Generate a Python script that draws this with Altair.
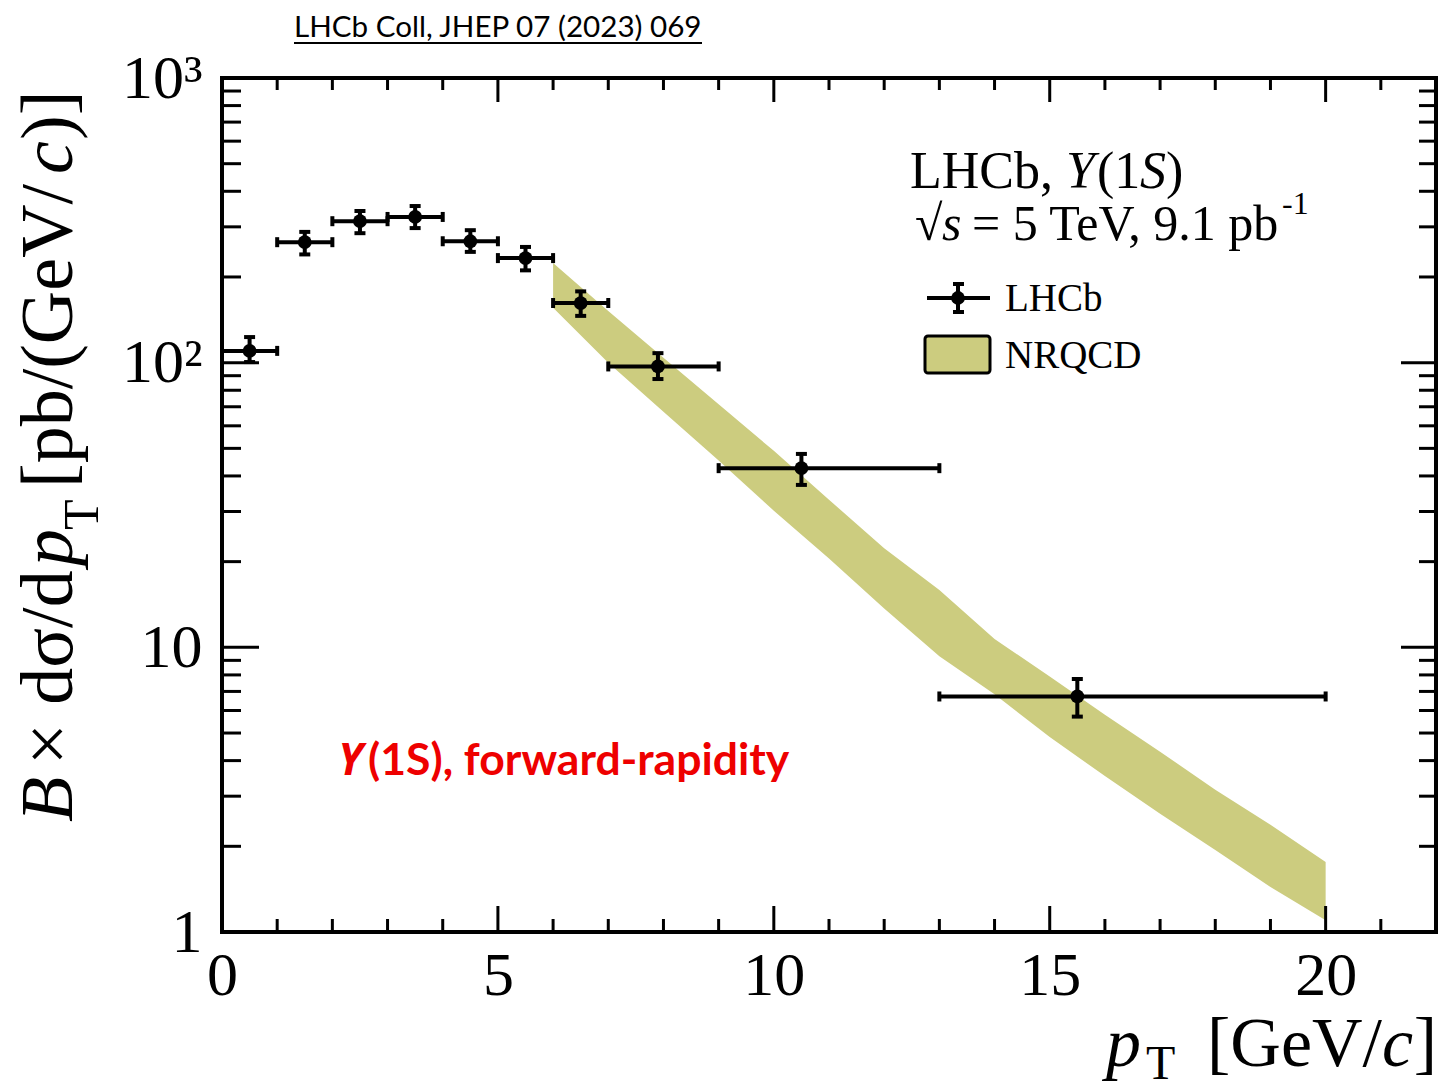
import altair as alt
import pandas as pd

# ---------------- data ----------------
bin_lo = [0, 1, 2, 3, 4, 5, 6, 7, 9, 13]
bin_hi = [1, 2, 3, 4, 5, 6, 7, 9, 13, 20]
pt_x = [0.5, 1.5, 2.5, 3.5, 4.5, 5.5, 6.5, 7.9, 10.5, 15.5]
pt_y = [110, 265, 314, 325, 267, 233, 162, 97, 42.6, 6.72]
err_lo = [100.5, 240, 285, 297, 245, 211, 146, 87.6, 37.2, 5.71]
err_hi = [123, 288, 341, 355, 292, 255, 178, 108, 47.8, 7.74]

band_x = [6, 7, 8, 9, 10, 11, 12, 13, 14, 15, 16, 17, 18, 19, 20]
band_up = [224, 152, 104, 71.4, 49.0, 33.0, 22.3, 15.9, 10.7, 7.9, 5.8, 4.3, 3.16, 2.38, 1.76]
band_lo = [156, 100, 67.3, 45.3, 30.2, 20.5, 13.7, 9.3, 6.84, 4.84, 3.53, 2.60, 1.94, 1.44, 1.10]

x_major = [0, 5, 10, 15, 20]
x_minor = [1, 2, 3, 4, 6, 7, 8, 9, 11, 12, 13, 14, 16, 17, 18, 19, 21]
y_major = [1, 10, 100, 1000]
y_minor = [2, 3, 4, 5, 6, 7, 8, 9, 20, 30, 40, 50, 60, 70, 80, 90,
           200, 300, 400, 500, 600, 700, 800, 900]

# ---------------- layout ----------------
W, H = 1214, 854
L, T = 222, 78
SERIF = "Liberation Serif"
SANS = "Lato"
OLIVE = "#cccc7f"

xs = alt.Scale(domain=[0, 22], nice=False, zero=False)
ys = alt.Scale(type="log", domain=[1, 1000], nice=False)

AX = alt.Axis(values=x_major, title=None, ticks=False, domain=False, grid=False,
              labelFont=SERIF, labelFontSize=62, labelPadding=13, labelFlush=False,
              labelOverlap=False, labelColor="black", format="d")
AY = alt.Axis(values=y_major, title=None, ticks=False, domain=False, grid=False,
              labelFont=SERIF, labelFontSize=62, labelPadding=20, labelFlush=False,
              labelOverlap=False, labelColor="black",
              labelExpr="datum.value >= 999 ? '10³' : datum.value >= 99 ? '10²' : datum.value >= 9 ? '10' : '1'")

def X(f):
    return alt.X(f, scale=xs, axis=AX)

def Y(f):
    return alt.Y(f, scale=ys, axis=AY)

df = pd.DataFrame({"x": pt_x, "y": pt_y, "lo": bin_lo, "hi": bin_hi,
                   "elo": err_lo, "ehi": err_hi})
band = pd.DataFrame({"x": band_x, "up": band_up, "lo": band_lo})

layers = []

# NRQCD band
layers.append(alt.Chart(band).mark_area(color=OLIVE, opacity=1).encode(
    x=X("x:Q"), y=Y("up:Q"), y2="lo:Q"))

# inward ticks (ROOT style)
def xticks(vals, y0, y1):
    return alt.Chart(pd.DataFrame({"t": vals})).mark_rule(color="black", strokeWidth=3).encode(
        x=X("t:Q"), y=alt.value(y0), y2=alt.value(y1))

def yticks(vals, x0, x1):
    return alt.Chart(pd.DataFrame({"t": vals})).mark_rule(color="black", strokeWidth=3).encode(
        y=Y("t:Q"), x=alt.value(x0), x2=alt.value(x1))

layers += [
    xticks(x_major, H, H - 26), xticks(x_minor, H, H - 13),
    xticks(x_major, 0, 24), xticks(x_minor, 0, 12),
    yticks(y_major, 0, 37), yticks(y_minor, 0, 19),
    yticks(y_major, W, W - 35), yticks(y_minor, W, W - 17),
]

# error bars
layers.append(alt.Chart(df).mark_rule(color="black", strokeWidth=4).encode(
    x=X("lo:Q"), x2="hi:Q", y=Y("y:Q")))
layers.append(alt.Chart(df).mark_rule(color="black", strokeWidth=4).encode(
    x=X("x:Q"), y=Y("elo:Q"), y2="ehi:Q"))
layers.append(alt.Chart(df).transform_fold(["lo", "hi"], as_=["k", "xe"]).mark_tick(
    orient="vertical", size=10, thickness=4, color="black", opacity=1).encode(
    x=X("xe:Q"), y=Y("y:Q")))
layers.append(alt.Chart(df).transform_fold(["elo", "ehi"], as_=["k", "ye"]).mark_tick(
    orient="horizontal", size=11, thickness=4, color="black", opacity=1).encode(
    x=X("x:Q"), y=Y("ye:Q")))

# points
layers.append(alt.Chart(df).mark_circle(size=190, color="black", opacity=1).encode(
    x=X("x:Q"), y=Y("y:Q")))

ONE = alt.Data(values=[{}])

def txt(s, px, py, size, font=SERIF, style="normal", weight="normal", angle=0,
        align="left", color="black"):
    return alt.Chart(ONE).mark_text(
        text=s, fontSize=size, font=font, fontStyle=style, fontWeight=weight,
        angle=angle, align=align, baseline="alphabetic", color=color).encode(
        x=alt.value(px - L), y=alt.value(py - T))

def prule(X0, Y0, X1, Y1, w=4):
    return alt.Chart(ONE).mark_rule(color="black", strokeWidth=w).encode(
        x=alt.value(X0 - L), x2=alt.value(X1 - L), y=alt.value(Y0 - T), y2=alt.value(Y1 - T))

# y-axis title (rotated pieces)
YB = 72
layers += [
    txt("B", YB, 822, 74, style="italic", angle=270),
    txt("× dσ/d", YB, 765, 74, angle=270),
    txt("p", YB, 566, 74, style="italic", angle=270),
    txt("T", YB + 26, 530, 50, angle=270),
    txt("[pb/(GeV/", YB, 488, 74, angle=270),
    txt("c", YB, 174, 74, style="italic", angle=270),
    txt(")]", YB, 140, 74, angle=270),
]

# x-axis title
layers += [
    txt("p", 1106, 1066, 70, style="italic"),
    txt("T", 1146, 1079, 48),
    txt("]", 1437, 1066, 70, align="right"),
    txt("c", 1413, 1066, 70, style="italic", align="right"),
    txt("[GeV/", 1382, 1066, 70, align="right"),
]

# header text
layers += [
    txt("LHCb,", 910, 188, 52),
    txt("Υ", 1066, 188, 52, style="italic"),
    txt("(1", 1097, 188, 52),
    txt("S", 1140, 188, 52, style="italic"),
    txt(")", 1166, 188, 52),
    txt("√", 915, 240, 50),
    txt("s", 942, 240, 50, style="italic"),
    txt("= 5 TeV, 9.1 pb", 972, 240, 50),
    txt("-1", 1282, 214, 32),
]

# legend
layers += [
    prule(927, 298, 990, 298),
    prule(958, 283, 958, 313),
    prule(953, 284, 964, 284),
    prule(953, 312, 964, 312),
    alt.Chart(ONE).mark_circle(size=190, color="black", opacity=1).encode(
        x=alt.value(958 - L), y=alt.value(298 - T)),
    alt.Chart(ONE).mark_rect(fill=OLIVE, stroke="black", strokeWidth=3, cornerRadius=3).encode(
        x=alt.value(925 - L), x2=alt.value(990 - L), y=alt.value(336 - T), y2=alt.value(373 - T)),
    txt("LHCb", 1005, 311, 39),
    txt("NRQCD", 1005, 368, 39),
]

# red annotation
layers += [
    txt("Υ", 338, 775, 44, font="Open Sans", style="italic", weight="bold", color="#ee0000"),
    txt("(1S), forward-rapidity", 368, 775, 44.5, font=SANS, weight="bold", color="#ee0000"),
]

# citation
layers += [
    txt("LHCb Coll, JHEP 07 (2023) 069", 294, 37, 29.6, font=SANS),
    prule(294, 43, 702, 43, w=2),
]

chart = alt.layer(*layers).properties(
    width=W, height=H,
    padding={"left": L, "top": T, "right": 1442 - L - W, "bottom": 1090 - T - H},
    autosize=alt.AutoSizeParams(type="none"),
).configure_view(stroke="black", strokeWidth=4)

chart.save("out.html", embed_options={"renderer": "svg", "actions": False})
